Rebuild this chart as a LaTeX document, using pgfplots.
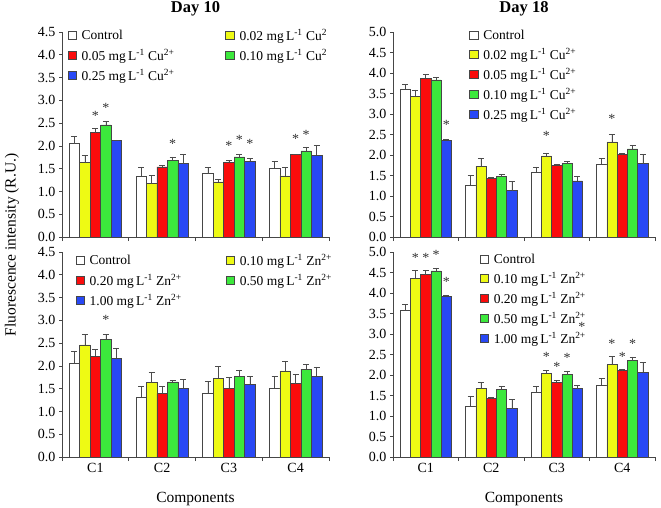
\documentclass[border=0pt]{standalone}
\usepackage{pgfplots}
\pgfplotsset{compat=1.18}
\usepackage{pgfplotstable}
\usepackage{fontspec}
\setmainfont{Liberation Serif}
\definecolor{cyel}{RGB}{238,250,20}
\definecolor{cred}{RGB}{250,12,12}
\definecolor{cgrn}{RGB}{60,232,60}
\definecolor{cblu}{RGB}{40,72,245}
\definecolor{cedge}{RGB}{70,70,70}

% Day 10, Cu
\pgfplotstableread{
c v0 e0 v1 e1 v2 e2 v3 e3 v4 e4
0 2.05 0.15 1.63 0.17 2.29 0.10 2.46 0.09 2.12 0.01
1 1.33 0.21 1.17 0.18 1.54 0.04 1.69 0.07 1.61 0.20
2 1.39 0.14 1.21 0.06 1.64 0.04 1.76 0.06 1.66 0.07
3 1.51 0.16 1.34 0.20 1.81 0.01 1.89 0.09 1.79 0.22
}\tabTL
% Day 18, Cu
\pgfplotstableread{
c v0 e0 v1 e1 v2 e2 v3 e3 v4 e4
0 3.60 0.13 3.42 0.17 3.87 0.10 3.83 0.07 2.36 0.02
1 1.27 0.23 1.73 0.20 1.43 0.03 1.47 0.05 1.13 0.22
2 1.58 0.13 1.98 0.05 1.75 0.03 1.79 0.05 1.37 0.10
3 1.77 0.14 2.32 0.19 2.02 0.01 2.15 0.08 1.79 0.22
}\tabTR
% Day 10, Zn
\pgfplotstableread{
c v0 e0 v1 e1 v2 e2 v3 e3 v4 e4
0 2.06 0.25 2.46 0.23 2.21 0.16 2.59 0.10 2.17 0.21
1 1.31 0.24 1.63 0.23 1.39 0.16 1.65 0.03 1.51 0.19
2 1.40 0.27 1.73 0.26 1.51 0.24 1.77 0.14 1.60 0.18
3 1.51 0.26 1.89 0.21 1.61 0.21 1.93 0.11 1.77 0.21
}\tabBL
% Day 18, Zn
\pgfplotstableread{
c v0 e0 v1 e1 v2 e2 v3 e3 v4 e4
0 3.58 0.15 4.36 0.19 4.45 0.11 4.54 0.07 3.92 0.02
1 1.24 0.24 1.67 0.16 1.42 0.04 1.65 0.07 1.18 0.23
2 1.57 0.16 2.03 0.09 1.82 0.04 2.01 0.09 1.67 0.08
3 1.75 0.16 2.25 0.20 2.11 0.02 2.35 0.09 2.07 0.24
}\tabBR

\newcommand{\tf}{\fontsize{14}{16}\selectfont}
\newcommand{\lf}{\fontsize{13.5}{15}\selectfont}
\pgfplotsset{
  panel/.style={
    scale only axis, height=205pt, clip=false,
    xmin=-0.5, xmax=3.5, ymin=0,
    axis lines=left, axis line style={-, cedge, line width=0.6pt},
    tick align=outside, major tick length=3pt, minor tick length=4pt,
    tick style={cedge, line width=0.6pt},
    xtick={0,1,2,3}, major x tick style={draw=none},
    minor xtick={-0.5,0.5,1.5,2.5,3.5},
    xticklabels={C1,C2,C3,C4},
    ticklabel style={font=\tf},
    yticklabel style={/pgf/number format/.cd, fixed, fixed zerofill, precision=1, assume math mode=true},
    title style={font=\fontsize{16.5}{18}\selectfont\bfseries, yshift=6pt},
    xlabel style={font=\fontsize{15.5}{17}\selectfont, yshift=-12pt},
    legend cell align=left,
    legend image code/.code={\draw[#1, line width=0.6pt] (0pt,-4pt) rectangle (8.5pt,4.5pt);},
    legend style={font=\lf, draw=none, fill=none, inner sep=0pt, row sep=3pt,
      /tikz/every odd column/.append style={column sep=3pt}},
  },
  bs/.style={ybar, bar width=0.157, bar shift=0pt, line width=0.6pt, draw=cedge,
    error bars/y dir=plus, error bars/y explicit,
    error bars/error bar style={black!70, line width=0.6pt},
    error bars/error mark options={rotate=90, mark size=3pt, black!70, line width=0.6pt}},
}
\newcommand{\bars}[1]{%
  \addplot[bs, fill=white] table[x expr=\thisrow{c}-0.314, y=v0, y error=e0]{#1};
  \addplot[bs, fill=cyel] table[x expr=\thisrow{c}-0.157, y=v1, y error=e1]{#1};
  \addplot[bs, fill=cred] table[x expr=\thisrow{c}, y=v2, y error=e2]{#1};
  \addplot[bs, fill=cgrn] table[x expr=\thisrow{c}+0.157, y=v3, y error=e3]{#1};
  \addplot[bs, fill=cblu] table[x expr=\thisrow{c}+0.314, y=v4, y error=e4]{#1};
}
\newcommand{\st}[2]{\node[anchor=base, inner sep=0pt, yshift=-0.45em, font=\fontsize{14}{14}\selectfont, black!80] at (axis cs:#1,#2) {*};}
\newcommand{\ml}{mg\,L\textsuperscript{-1}}

\begin{document}
\begin{tikzpicture}
\path[use as bounding box] (0pt,0pt) rectangle (661pt,-508pt);

% Day 10, Cu
\begin{axis}[panel, width=267pt, at={(62pt,-237pt)}, anchor=south west,
  ymax=4.5, ytick={0,0.5,1,1.5,2,2.5,3,3.5,4,4.5}, xticklabels={},
  title={Day 10},
  legend columns=2,
  legend style={at={(0.02,1.025)}, anchor=north west,
    /tikz/every even column/.append style={column sep=49pt}}]
\bars{\tabTL}
\legend{Control, 0.02 \ml{} Cu\textsuperscript{2}, 0.05 \ml{} Cu\textsuperscript{2+}, 0.10 \ml{} Cu\textsuperscript{2}, 0.25 \ml{} Cu\textsuperscript{2+}}
\st{0}{2.65}\st{0.157}{2.83}
\st{1.157}{2.05}
\st{2}{2.0}\st{2.157}{2.14}\st{2.314}{2.05}
\st{3}{2.15}\st{3.157}{2.25}
\end{axis}

% Day 18, Cu
\begin{axis}[panel, width=262pt, at={(393pt,-237pt)}, anchor=south west,
  ymax=5, ytick={0,0.5,1,1.5,2,2.5,3,3.5,4,4.5,5}, xticklabels={},
  title={Day 18},
  legend style={at={(0.29,1.02)}, anchor=north west}]
\bars{\tabTR}
\legend{Control, 0.02 \ml{} Cu\textsuperscript{2+}, 0.05 \ml{} Cu\textsuperscript{2+}, 0.10 \ml{} Cu\textsuperscript{2+}, 0.25 \ml{} Cu\textsuperscript{2+}}
\st{0.314}{2.73}
\st{1.843}{2.46}
\st{2.843}{2.89}
\end{axis}

% Day 10, Zn
\begin{axis}[panel, width=267pt, at={(62pt,-457pt)}, anchor=south west,
  ymax=4.5, ytick={0,0.5,1,1.5,2,2.5,3,3.5,4,4.5},
  xlabel={Components},
  legend columns=2,
  legend style={at={(0.05,1.0)}, anchor=north west,
    /tikz/every even column/.append style={column sep=42pt}}]
\bars{\tabBL}
\legend{Control, 0.10 \ml{} Zn\textsuperscript{2+}, 0.20 \ml{} Zn\textsuperscript{2+}, 0.50 \ml{} Zn\textsuperscript{2+}, 1.00 \ml{} Zn\textsuperscript{2+}}
\st{0.157}{3.0}
\end{axis}

% Day 18, Zn
\begin{axis}[panel, width=262pt, at={(393pt,-457pt)}, anchor=south west,
  ymax=5, ytick={0,0.5,1,1.5,2,2.5,3,3.5,4,4.5,5},
  xlabel={Components},
  legend style={at={(0.33,1.0)}, anchor=north west}]
\bars{\tabBR}
\legend{Control, 0.10 \ml{} Zn\textsuperscript{2+}, 0.20 \ml{} Zn\textsuperscript{2+}, 0.50 \ml{} Zn\textsuperscript{2+}, 1.00 \ml{} Zn\textsuperscript{2+}}
\st{-0.157}{4.86}\st{0}{4.86}\st{0.157}{4.93}\st{0.314}{4.26}
\st{1.843}{2.43}\st{2}{2.19}\st{2.157}{2.41}
\st{2.843}{2.76}\st{3}{2.44}\st{3.157}{2.76}
\st{2.385}{3.17}
\end{axis}

\node[rotate=90, font=\fontsize{15.5}{17}\selectfont] at (12pt,-245pt) {Fluorescence intensity (R.U.)};
\end{tikzpicture}
\end{document}
